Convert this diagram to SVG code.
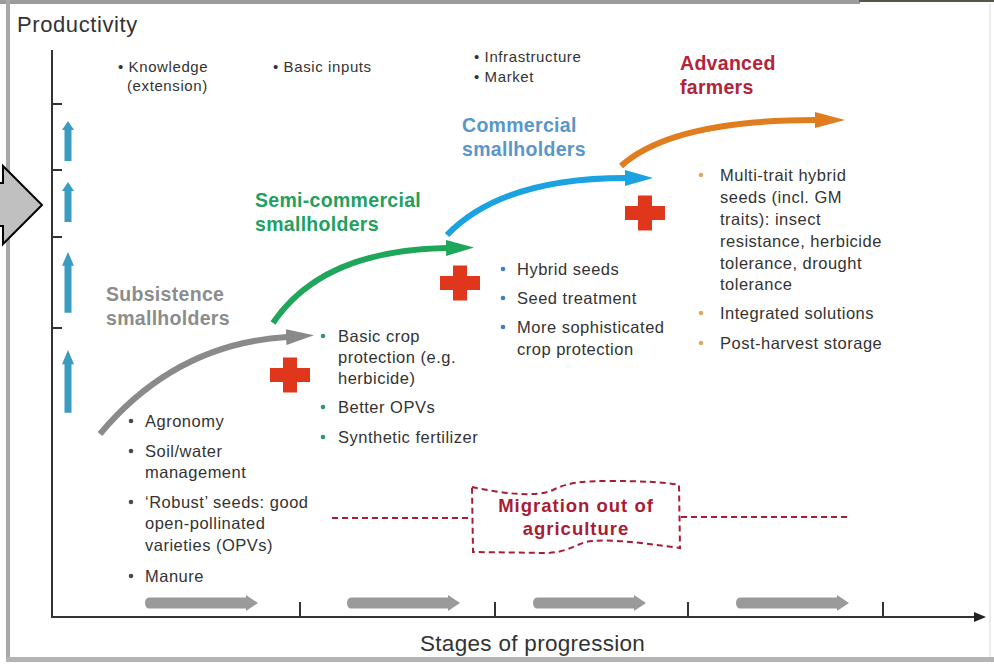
<svg xmlns="http://www.w3.org/2000/svg" xmlns:xlink="http://www.w3.org/1999/xlink" width="994" height="664" viewBox="0 0 994 664">
<style>
.t{font-family:"Liberation Sans",Arial,sans-serif;fill:#333}
.top{font-size:15px;letter-spacing:.6px}
.body{font-size:16.5px;letter-spacing:.5px}
.stage{font-size:19.5px;font-weight:bold;letter-spacing:.3px}
.axis{stroke:#333;stroke-width:2;fill:none}
.curve{fill:none;stroke-width:6}
.dash{fill:none;stroke:#a81c34;stroke-width:2;stroke-dasharray:6 4}
.cross{fill:#e0361c}
.garrow{fill:#9a9a9a}
.uparrow{fill:#3a9cc0}
</style>
<defs>
<marker id="mGray" markerUnits="userSpaceOnUse" viewBox="0 0 28 16" markerWidth="28" markerHeight="16" refX="1" refY="8" orient="auto"><path d="M0,0 L28,8 L0,16 z" fill="#8a8a8a"/></marker>
<marker id="mGreen" markerUnits="userSpaceOnUse" viewBox="0 0 28 16" markerWidth="28" markerHeight="16" refX="1" refY="8" orient="auto"><path d="M0,0 L28,8 L0,16 z" fill="#1ea65a"/></marker>
<marker id="mBlue" markerUnits="userSpaceOnUse" viewBox="0 0 28 16" markerWidth="28" markerHeight="16" refX="1" refY="8" orient="auto"><path d="M0,0 L28,8 L0,16 z" fill="#1aa3e0"/></marker>
<marker id="mOrange" markerUnits="userSpaceOnUse" viewBox="0 0 30 16" markerWidth="30" markerHeight="16" refX="1" refY="8" orient="auto"><path d="M0,0 L30,8 L0,16 z" fill="#e07d1e"/></marker>
<path id="crossShape" d="M-7,-17.5 h14 v10.5 h13 v14 h-13 v10.5 h-14 v-10.5 h-13 v-14 h13 z"/>
<path id="stageArrow" d="M4,-5.5 H101 V-8 L113,0 L101,8 V5.5 H4 A4,5.5 0 0 1 4,-5.5 z"/>
<path id="upArrow" d="M-3.5,9 L-3.5,40 L3.5,40 L3.5,9 L6,9 L0,0 L-6,9 z"/>
</defs>

<!-- frame -->
<rect x="0" y="0" width="994" height="664" fill="#ffffff"/>
<rect x="0" y="0" width="860" height="4" fill="#9c9c9c"/>
<rect x="859" y="0" width="135" height="2" fill="#55554c"/>
<rect x="6" y="0" width="4" height="662" fill="#a8a8a8"/>
<rect x="6" y="657" width="988" height="5" fill="#b4b4b4"/>
<rect x="989" y="4" width="2" height="653" fill="#ececec"/>
<polygon points="-10,183 3,183 3,166 42,205 3,244 3,226 -10,226" fill="#c0c0c0" stroke="#000" stroke-width="2"/>

<!-- axes -->
<g id="axes">
<line class="axis" x1="52" y1="50" x2="52" y2="617"/>
<line class="axis" x1="51" y1="617" x2="976" y2="617"/>
<polygon points="986,617 974,612 974,622" fill="#222"/>
<g class="axis" stroke-width="1.6">
<line x1="52" y1="104" x2="62" y2="104"/>
<line x1="52" y1="170" x2="62" y2="170"/>
<line x1="52" y1="237" x2="62" y2="237"/>
<line x1="52" y1="328" x2="62" y2="328"/>
<line x1="300" y1="602" x2="300" y2="617"/>
<line x1="495" y1="602" x2="495" y2="617"/>
<line x1="688" y1="602" x2="688" y2="617"/>
<line x1="883" y1="602" x2="883" y2="617"/>
</g>
<text class="t" x="17" y="32" font-size="22" letter-spacing="0.6">Productivity</text>
<text class="t" x="420" y="651" font-size="22.5" letter-spacing="0.3">Stages of progression</text>
</g>

<!-- productivity up arrows -->
<g id="up-arrows" class="uparrow">
<use xlink:href="#upArrow" transform="translate(68,121)"/>
<use xlink:href="#upArrow" transform="translate(68,182)"/>
<use xlink:href="#upArrow" transform="translate(68,252) scale(1,1.52)"/>
<use xlink:href="#upArrow" transform="translate(68,350) scale(1,1.57)"/>
</g>

<!-- stage arrows along x-axis -->
<g id="stage-arrows" class="garrow">
<use xlink:href="#stageArrow" transform="translate(145,603)"/>
<use xlink:href="#stageArrow" transform="translate(347,603)"/>
<use xlink:href="#stageArrow" transform="translate(533,603)"/>
<use xlink:href="#stageArrow" transform="translate(736,603)"/>
</g>

<!-- top enablers -->
<g id="enablers">
<text class="t top" x="118" y="72">• Knowledge</text>
<text class="t top" x="127" y="91">(extension)</text>
<text class="t top" x="273" y="72">• Basic inputs</text>
<text class="t top" x="474" y="62">• Infrastructure</text>
<text class="t top" x="474" y="82">• Market</text>
</g>

<!-- connectors -->
<g id="connectors">
<path class="curve" stroke="#8a8a8a" d="M100,434 Q175,344 287,337" marker-end="url(#mGray)"/>
<path class="curve" stroke="#1ea65a" d="M273,323 Q322,250 447,248" marker-end="url(#mGreen)"/>
<path class="curve" stroke="#1aa3e0" d="M447,235 Q502,178 626,178" marker-end="url(#mBlue)"/>
<path class="curve" stroke="#e07d1e" d="M621,166 Q672,120 816,120" marker-end="url(#mOrange)"/>
</g>

<!-- stage 1 -->
<g id="subsistence">
<text class="t stage" x="106" y="301" style="fill:#8c8c8c">Subsistence</text>
<text class="t stage" x="106" y="325" style="fill:#8c8c8c">smallholders</text>
<g fill="#4a4a4a">
<circle cx="131" cy="421" r="2.3"/><circle cx="131" cy="451" r="2.3"/><circle cx="131" cy="502" r="2.3"/><circle cx="131" cy="576" r="2.3"/>
</g>
<text class="t body" x="145" y="427">Agronomy</text>
<text class="t body" x="145" y="457">Soil/water</text>
<text class="t body" x="145" y="478">management</text>
<text class="t body" x="145" y="508">‘Robust’ seeds: good</text>
<text class="t body" x="145" y="529">open-pollinated</text>
<text class="t body" x="145" y="551">varieties (OPVs)</text>
<text class="t body" x="145" y="582">Manure</text>
</g>

<!-- stage 2 -->
<g id="semi-commercial">
<text class="t stage" x="255" y="207" style="fill:#22a05e">Semi-commercial</text>
<text class="t stage" x="255" y="231" style="fill:#22a05e">smallholders</text>
<use xlink:href="#crossShape" class="cross" transform="translate(290,375)"/>
<g fill="#2c9a64">
<circle cx="323" cy="336" r="2.3"/><circle cx="323" cy="407" r="2.3"/><circle cx="323" cy="437" r="2.3"/>
</g>
<text class="t body" x="338" y="342">Basic crop</text>
<text class="t body" x="338" y="363">protection (e.g.</text>
<text class="t body" x="338" y="384">herbicide)</text>
<text class="t body" x="338" y="413">Better OPVs</text>
<text class="t body" x="338" y="443">Synthetic fertilizer</text>
</g>

<!-- stage 3 -->
<g id="commercial">
<text class="t stage" x="462" y="132" style="fill:#5a96c8">Commercial</text>
<text class="t stage" x="462" y="156" style="fill:#5a96c8">smallholders</text>
<use xlink:href="#crossShape" class="cross" transform="translate(460,283)"/>
<g fill="#3d7fbf">
<circle cx="503" cy="269" r="2.3"/><circle cx="503" cy="298" r="2.3"/><circle cx="503" cy="327" r="2.3"/>
</g>
<text class="t body" x="517" y="275">Hybrid seeds</text>
<text class="t body" x="517" y="304">Seed treatment</text>
<text class="t body" x="517" y="333">More sophisticated</text>
<text class="t body" x="517" y="355">crop protection</text>
</g>

<!-- stage 4 -->
<g id="advanced">
<text class="t stage" x="680" y="70" style="fill:#b3233a">Advanced</text>
<text class="t stage" x="680" y="94" style="fill:#b3233a">farmers</text>
<use xlink:href="#crossShape" class="cross" transform="translate(645,213)"/>
<g fill="#e3a860">
<circle cx="701" cy="175" r="2.3"/><circle cx="701" cy="313" r="2.3"/><circle cx="701" cy="343" r="2.3"/>
</g>
<text class="t body" x="720" y="181">Multi-trait hybrid</text>
<text class="t body" x="720" y="203">seeds (incl. GM</text>
<text class="t body" x="720" y="225">traits): insect</text>
<text class="t body" x="720" y="247">resistance, herbicide</text>
<text class="t body" x="720" y="269">tolerance, drought</text>
<text class="t body" x="720" y="290">tolerance</text>
<text class="t body" x="720" y="319">Integrated solutions</text>
<text class="t body" x="720" y="349">Post-harvest storage</text>
</g>

<!-- migration -->
<g id="migration">
<line class="dash" x1="332" y1="518" x2="471" y2="518"/>
<line class="dash" x1="681" y1="517" x2="847" y2="517"/>
<path class="dash" d="M472,487 C500,493 535,498 553,490 C568,482 585,481 610,481 C640,481 665,482 679,485 L680,548 C655,545 620,539 592,541 C578,542 570,552 548,553 L473,552 Z"/>
<text class="t" x="576" y="512" text-anchor="middle" font-size="18.5" font-weight="bold" letter-spacing="1" style="fill:#a81c34">Migration out of</text>
<text class="t" x="576" y="535" text-anchor="middle" font-size="18.5" font-weight="bold" letter-spacing="1" style="fill:#a81c34">agriculture</text>
</g>
</svg>
